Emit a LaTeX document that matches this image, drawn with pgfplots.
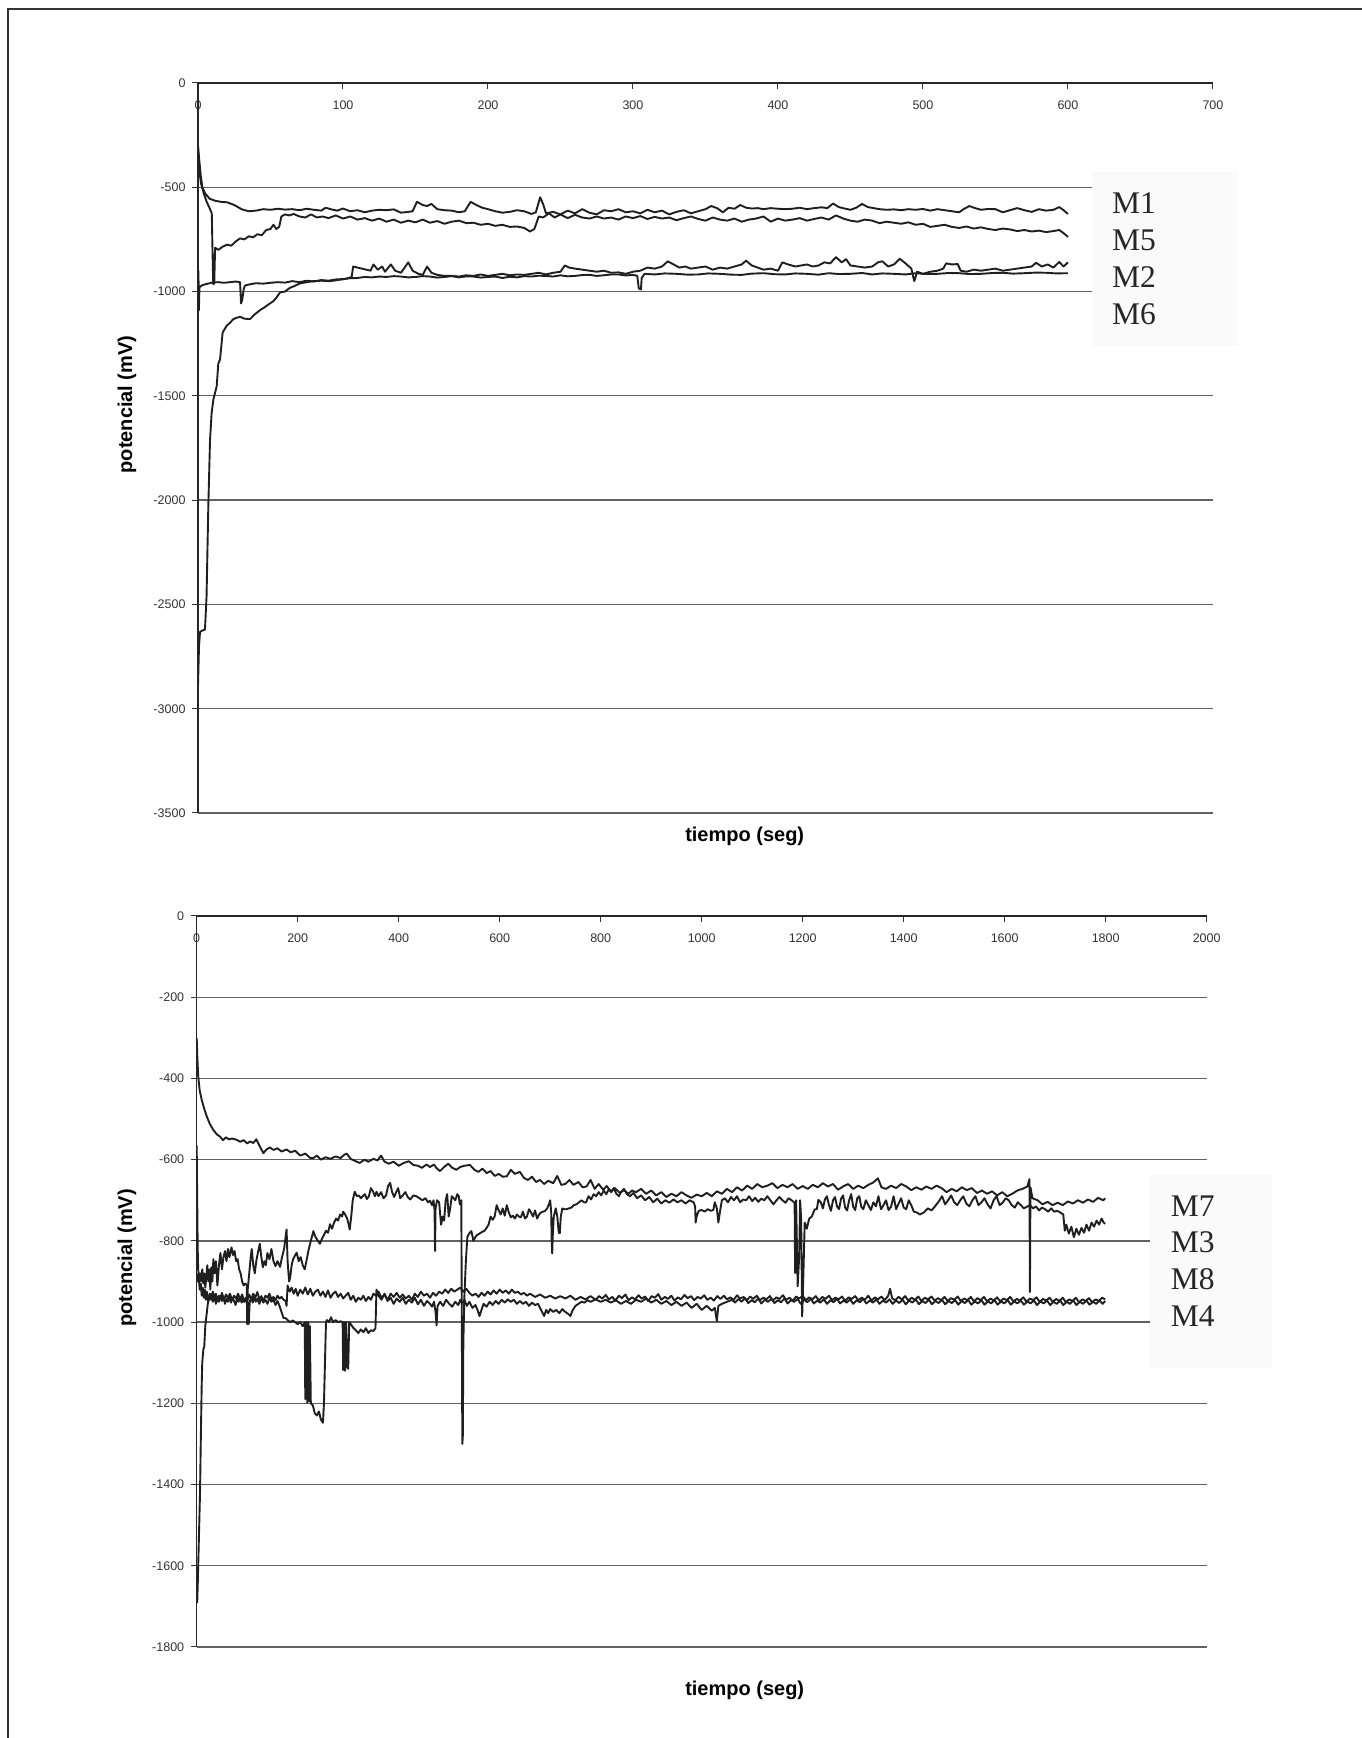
\documentclass[border=0pt]{standalone}
\usepackage{fontspec}
\setmainfont{Liberation Sans}
\newfontfamily\serifmk{Liberation Serif}
\usepackage{pgfplots}
\pgfplotsset{compat=1.18}
\begin{document}
\begin{tikzpicture}
\path[use as bounding box] (0pt,0pt) rectangle (1362pt,1738pt);
\pgfplotsset{
  excel/.style={
    scale only axis,
    axis x line*=middle, axis y line*=left,
    axis line style={-, black!85, line width=1.4pt},
    hide obscured x ticks=false, hide obscured y ticks=false,
    ymajorgrids, major grid style={black!62, line width=1.3pt},
    tick style={black!80, line width=1pt}, major tick length=6pt,
    tick align=outside,
    /pgf/number format/assume math mode=true,
    /pgf/number format/1000 sep={},
    tick label style={font=\fontsize{12.5}{14}\selectfont, text=black!80},
    xticklabel style={yshift=-8pt},
    yticklabel style={xshift=-3pt},
    clip=true,
  },
  curve/.style={line width=1.9pt, black!88, line join=round},
}
% ---------------- TOP CHART ----------------
\begin{axis}[excel, at={(198pt,925pt)}, anchor=south west, width=1015pt, height=730pt,
  xmin=0, xmax=700, ymin=-3500, ymax=0,
  xtick={0,100,...,700}, ytick={-3500,-3000,...,0}]
% M1
\addplot[curve] coordinates {(0,-300) (1,-380) (2,-450) (3,-500) (5,-530) (8,-555) (12,-565) (16,-570) (20,-572) (25,-585) (30,-605) (35,-615) (40,-612) (45,-605) (50,-608) (55,-603) (60,-607) (65,-605) (70,-610) (75,-603) (80,-608) (85,-612) (88,-598) (92,-606) (96,-612) (100,-602) (105,-615) (110,-610) (115,-620) (120,-612) (125,-608) (130,-610) (135,-606) (140,-622) (145,-618) (148,-615) (151,-570) (155,-585) (158,-590) (161,-580) (165,-605) (170,-610) (175,-612) (180,-620) (184,-615) (188,-570) (192,-585) (196,-598) (200,-605) (205,-615) (210,-622) (215,-618) (220,-610) (225,-615) (230,-628) (233,-620) (236,-548) (238,-580) (240,-625) (245,-618) (250,-630) (255,-612) (260,-625) (265,-605) (270,-622) (275,-630) (280,-610) (285,-615) (290,-605) (295,-620) (300,-615) (305,-625) (310,-608) (315,-620) (320,-612) (325,-630) (330,-618) (335,-610) (340,-625) (345,-615) (350,-605) (354,-590) (358,-600) (362,-620) (366,-598) (370,-603) (374,-585) (378,-598) (382,-602) (386,-600) (390,-605) (395,-600) (400,-603) (405,-605) (410,-603) (415,-598) (420,-605) (425,-600) (430,-596) (434,-600) (438,-578) (442,-595) (446,-602) (450,-608) (454,-598) (458,-580) (462,-595) (466,-600) (470,-605) (475,-608) (480,-606) (485,-610) (490,-605) (495,-608) (500,-604) (505,-612) (510,-605) (515,-610) (520,-615) (525,-620) (528,-605) (532,-590) (536,-600) (540,-608) (545,-604) (550,-605) (555,-620) (560,-610) (565,-600) (570,-610) (575,-618) (580,-605) (585,-612) (590,-608) (594,-595) (597,-610) (600,-628)};
% M5
\addplot[curve] coordinates {(0,-320) (1,-420) (2,-480) (4,-530) (6,-570) (8,-600) (9.5,-625) (10,-800) (10.5,-965) (11.2,-960) (11.8,-790) (14,-800) (17,-785) (20,-775) (23,-780) (26,-760) (29,-745) (32,-750) (35,-735) (38,-740) (41,-725) (44,-730) (47,-705) (50,-700) (52,-680) (54,-700) (56,-690) (57.5,-640) (60,-630) (63,-635) (66,-628) (70,-640) (74,-645) (78,-630) (82,-645) (86,-640) (90,-648) (95,-635) (100,-650) (105,-640) (110,-655) (115,-648) (120,-660) (125,-650) (130,-665) (135,-655) (140,-670) (145,-660) (150,-668) (155,-655) (160,-670) (165,-662) (170,-675) (175,-665) (180,-660) (185,-672) (190,-670) (195,-680) (200,-675) (205,-685) (210,-680) (215,-690) (220,-688) (225,-695) (229,-712) (232,-700) (235,-640) (238,-645) (242,-625) (246,-645) (250,-630) (255,-648) (260,-632) (265,-645) (270,-650) (275,-640) (280,-650) (285,-645) (290,-655) (295,-640) (300,-648) (305,-638) (310,-652) (315,-642) (320,-650) (325,-645) (330,-658) (335,-648) (340,-640) (345,-652) (350,-660) (355,-645) (360,-655) (365,-660) (370,-650) (375,-665) (380,-655) (385,-650) (390,-640) (395,-665) (400,-650) (405,-660) (410,-655) (415,-648) (420,-660) (425,-652) (430,-645) (435,-655) (440,-635) (445,-650) (450,-660) (455,-665) (460,-655) (465,-660) (470,-672) (475,-665) (480,-670) (485,-675) (490,-668) (495,-680) (500,-675) (505,-690) (510,-685) (515,-680) (520,-690) (525,-695) (530,-688) (535,-698) (540,-692) (545,-700) (550,-705) (555,-698) (560,-702) (565,-710) (570,-705) (575,-712) (580,-708) (585,-715) (590,-710) (594,-705) (597,-720) (600,-738)};
% M2
\addplot[curve] coordinates {(0,-1000) (0.3,-900) (0.6,-1090) (1,-980) (2.5,-971) (5,-965) (8,-960) (10.6,-956) (14,-955) (18,-958) (22,-955) (26,-952) (29,-955) (29.7,-1057) (30.5,-1040) (31.5,-990) (32.4,-971) (36,-965) (40,-960) (45,-962) (50,-958) (55,-955) (60,-957) (65,-950) (70,-955) (75,-948) (80,-952) (85,-945) (90,-948) (95,-942) (100,-940) (105,-936) (110,-935) (115,-930) (120,-932) (125,-928) (130,-930) (135,-926) (140,-928) (145,-932) (150,-930) (155,-926) (160,-928) (165,-933) (170,-930) (175,-926) (180,-932) (185,-927) (190,-928) (195,-933) (200,-930) (205,-928) (210,-935) (215,-929) (220,-932) (225,-926) (230,-928) (235,-924) (240,-925) (245,-928) (250,-922) (255,-927) (260,-925) (265,-921) (270,-920) (275,-925) (280,-922) (285,-918) (290,-918) (295,-923) (300,-920) (303,-925) (304,-985) (305.5,-990) (306,-935) (308,-915) (315,-918) (322,-913) (330,-915) (338,-919) (345,-918) (352,-913) (360,-915) (368,-919) (375,-920) (382,-914) (390,-912) (398,-917) (405,-918) (412,-913) (420,-915) (428,-919) (435,-912) (442,-916) (450,-915) (458,-911) (465,-918) (472,-913) (480,-915) (488,-918) (495,-912) (502,-916) (510,-915) (518,-911) (525,-912) (532,-916) (540,-915) (548,-911) (555,-910) (562,-914) (570,-912) (578,-909) (585,-910) (592,-913) (600,-912)};
% M6
\addplot[curve] coordinates {(0,-2890) (0.7,-2700) (1.4,-2632) (3,-2625) (4.8,-2621) (5.9,-2461) (7.1,-2032) (8.3,-1711) (9.4,-1582) (10.6,-1518) (12.9,-1454) (14,-1346) (15.2,-1325) (17,-1196) (19.8,-1164) (22,-1150) (24.4,-1132) (27,-1125) (29,-1121) (32,-1130) (35.9,-1132) (39,-1110) (42.8,-1089) (46,-1075) (49,-1060) (52,-1046) (54,-1030) (56.6,-1004) (60,-1000) (63.4,-982) (66,-975) (70.3,-961) (75,-955) (79.5,-950) (85,-948) (91,-950) (96,-945) (102,-939) (106,-930) (107,-880) (110,-885) (113,-890) (116,-895) (119,-900) (121,-870) (124,-895) (127,-880) (129,-905) (133,-870) (136,-900) (140,-910) (143,-880) (145,-860) (148,-900) (152,-915) (155,-920) (158,-880) (161,-910) (165,-920) (170,-925) (175,-925) (180,-928) (185,-922) (190,-925) (195,-918) (200,-925) (205,-920) (210,-915) (215,-922) (220,-918) (225,-920) (230,-915) (235,-910) (240,-918) (245,-910) (250,-905) (253,-875) (256,-885) (260,-890) (265,-895) (270,-900) (275,-905) (280,-900) (285,-910) (290,-908) (295,-915) (300,-905) (305,-900) (310,-885) (315,-890) (320,-880) (324,-855) (328,-870) (332,-885) (336,-880) (340,-890) (345,-885) (350,-880) (355,-895) (360,-885) (365,-890) (370,-880) (375,-870) (378,-852) (382,-875) (386,-885) (390,-895) (395,-890) (400,-900) (403,-860) (407,-870) (412,-880) (416,-875) (420,-870) (424,-880) (428,-875) (432,-860) (436,-865) (440,-835) (444,-860) (447,-845) (450,-875) (455,-880) (460,-885) (465,-880) (469,-860) (472,-855) (476,-880) (480,-870) (484,-843) (488,-865) (492,-890) (494,-950) (496,-905) (500,-915) (505,-905) (510,-900) (514,-890) (516,-865) (520,-870) (524,-868) (526,-900) (530,-905) (535,-895) (540,-900) (545,-895) (550,-890) (555,-900) (560,-895) (565,-890) (570,-885) (575,-880) (578,-862) (582,-880) (586,-870) (590,-885) (594,-858) (597,-880) (600,-860)};
\end{axis}
% ---------------- BOTTOM CHART ----------------
\begin{axis}[excel, at={(196.7pt,91pt)}, anchor=south west, width=1010pt, height=731pt,
  xmin=0, xmax=2000, ymin=-1800, ymax=0,
  xtick={0,200,...,2000}, ytick={-1800,-1600,...,0}]
% M7
\addplot[curve] coordinates {(0,-300) (1,-340) (3,-395) (6,-430) (10,-453) (15,-475) (20,-494) (26,-512) (33,-527) (40,-538) (46,-543) (52,-552) (58,-545) (64,-550) (70,-548) (79,-551) (86,-556) (93,-552) (100,-560) (106,-555) (112,-559) (118,-550) (124,-565) (132,-584) (138,-575) (145,-570) (152,-576) (160,-572) (168,-580) (178,-575) (186,-582) (195,-578) (205,-590) (215,-585) (225,-596) (231,-596) (238,-590) (246,-600) (255,-594) (265,-598) (275,-592) (285,-596) (292,-588) (297,-585) (305,-598) (315,-604) (323,-608) (332,-600) (340,-605) (350,-598) (358,-602) (365,-590) (372,-605) (380,-610) (390,-605) (400,-615) (410,-608) (420,-604) (429,-613) (438,-615) (446,-620) (455,-612) (462,-618) (470,-612) (475,-621) (482,-628) (490,-618) (498,-610) (506,-620) (514,-625) (522,-618) (530,-615) (541,-613) (550,-625) (558,-630) (566,-622) (574,-633) (582,-628) (590,-640) (598,-635) (606,-642) (614,-641) (622,-625) (630,-635) (640,-630) (648,-645) (656,-650) (664,-642) (672,-655) (680,-650) (688,-660) (696,-652) (706,-658) (714,-640) (722,-662) (730,-660) (738,-650) (746,-662) (756,-655) (764,-668) (772,-666) (780,-650) (788,-672) (796,-660) (805,-674) (812,-665) (820,-678) (828,-670) (838,-682) (846,-675) (855,-684) (862,-676) (870,-680) (880,-672) (890,-684) (900,-676) (910,-688) (920,-680) (930,-692) (940,-684) (950,-690) (960,-680) (970,-688) (980,-694) (990,-686) (1000,-690) (1010,-682) (1020,-690) (1030,-678) (1040,-684) (1050,-672) (1060,-680) (1070,-668) (1080,-676) (1090,-664) (1100,-672) (1110,-660) (1120,-668) (1130,-664) (1140,-658) (1150,-670) (1160,-662) (1170,-668) (1180,-660) (1190,-672) (1200,-665) (1210,-672) (1220,-662) (1230,-668) (1240,-658) (1250,-666) (1260,-660) (1270,-674) (1280,-666) (1290,-660) (1300,-672) (1310,-664) (1320,-670) (1330,-662) (1340,-656) (1349,-646) (1356,-668) (1365,-672) (1375,-664) (1385,-670) (1395,-660) (1405,-666) (1415,-675) (1425,-668) (1435,-674) (1445,-666) (1455,-672) (1465,-664) (1475,-670) (1485,-680) (1495,-672) (1505,-678) (1515,-668) (1525,-675) (1535,-670) (1545,-682) (1555,-676) (1565,-684) (1575,-678) (1585,-688) (1595,-680) (1605,-690) (1615,-684) (1625,-676) (1635,-672) (1645,-666) (1649,-648) (1650,-926) (1651,-668) (1655,-695) (1665,-700) (1675,-710) (1685,-704) (1695,-712) (1705,-706) (1715,-712) (1725,-703) (1735,-708) (1745,-700) (1755,-706) (1765,-698) (1775,-704) (1785,-694) (1795,-700) (1799,-695)};
% M3
\addplot[curve] coordinates {(0,-565) (1,-700) (2,-820) (3,-873) (5,-890) (7,-880) (9,-900) (11,-870) (13,-905) (15,-880) (17,-915) (19,-890) (21,-860) (23,-900) (25,-870) (27,-920) (29,-865) (31,-900) (33,-845) (35,-880) (38,-850) (41,-910) (44,-860) (47,-830) (50,-870) (53,-840) (56,-825) (59,-850) (62,-820) (65,-840) (69,-816) (72,-835) (75,-825) (78,-850) (81,-845) (84,-870) (87,-880) (90,-900) (93,-910) (96,-905) (99,-908) (100,-1005) (101,-920) (104,-880) (107,-840) (109,-820) (112,-860) (115,-880) (118,-850) (121,-830) (125,-807) (128,-840) (131,-865) (134,-850) (137,-860) (140,-830) (144,-845) (148,-820) (152,-850) (156,-862) (160,-850) (165,-864) (169,-840) (173,-820) (176,-790) (178,-772) (180,-850) (183,-900) (185,-891) (188,-860) (191,-845) (195,-835) (198,-829) (202,-850) (206,-840) (210,-860) (214,-870) (218,-845) (222,-820) (226,-800) (231,-776) (235,-790) (240,-800) (244,-807) (248,-795) (252,-785) (256,-775) (260,-780) (264,-759) (268,-770) (272,-755) (276,-745) (280,-750) (284,-735) (288,-740) (290,-728) (294,-735) (298,-745) (301,-760) (303,-772) (306,-740) (309,-700) (313,-679) (317,-690) (321,-688) (325,-695) (329,-690) (333,-685) (337,-697) (341,-690) (345,-670) (349,-678) (353,-690) (356,-679) (360,-690) (365,-680) (370,-695) (375,-688) (379,-665) (383,-657) (387,-680) (391,-692) (395,-680) (399,-670) (403,-695) (408,-688) (413,-680) (418,-692) (423,-698) (429,-688) (435,-690) (441,-695) (447,-700) (453,-695) (458,-705) (462,-701) (466,-712) (469,-700) (471,-725) (472,-825) (473,-720) (476,-700) (480,-705) (484,-760) (487,-740) (490,-750) (493,-700) (496,-685) (499,-740) (502,-720) (505,-690) (508,-694) (512,-700) (516,-685) (519,-690) (521,-710) (524,-700) (525,-1000) (526,-1300) (527,-1280) (528,-1050) (530,-940) (533,-850) (536,-790) (540,-781) (544,-776) (548,-800) (552,-790) (556,-785) (560,-782) (565,-778) (570,-775) (574,-768) (578,-760) (582,-740) (586,-748) (590,-740) (594,-712) (598,-725) (602,-735) (606,-720) (610,-738) (614,-712) (618,-730) (622,-742) (626,-738) (630,-745) (634,-735) (638,-740) (642,-742) (646,-728) (650,-745) (654,-740) (658,-722) (662,-730) (666,-740) (670,-725) (674,-745) (678,-735) (682,-730) (686,-728) (690,-726) (694,-720) (698,-708) (700,-700) (702,-730) (703,-800) (704,-831) (705,-790) (707,-740) (711,-720) (714,-740) (717,-780) (719,-781) (721,-740) (724,-720) (728,-722) (732,-722) (737,-720) (742,-718) (747,-712) (752,-710) (757,-705) (762,-700) (767,-705) (771,-705) (776,-690) (781,-698) (786,-685) (791,-690) (796,-680) (801,-688) (806,-676) (811,-685) (816,-673) (821,-680) (826,-670) (831,-684) (836,-690) (840,-680) (846,-672) (852,-685) (858,-690) (865,-682) (872,-695) (880,-688) (888,-700) (896,-692) (904,-705) (912,-696) (920,-708) (928,-700) (936,-706) (944,-698) (952,-705) (960,-700) (968,-708) (976,-700) (984,-705) (987,-715) (988,-755) (990,-740) (994,-726) (1000,-724) (1006,-728) (1012,-722) (1018,-726) (1023,-724) (1026,-705) (1030,-720) (1033,-755) (1036,-730) (1040,-700) (1046,-695) (1052,-705) (1058,-692) (1064,-700) (1070,-690) (1076,-705) (1082,-698) (1088,-700) (1094,-690) (1100,-702) (1106,-694) (1112,-704) (1118,-696) (1124,-700) (1130,-690) (1136,-700) (1142,-710) (1148,-700) (1154,-692) (1160,-700) (1166,-706) (1172,-695) (1178,-700) (1184,-706) (1185,-879) (1187,-700) (1190,-912) (1193,-840) (1195,-700) (1197,-750) (1199,-986) (1201,-900) (1204,-755) (1208,-770) (1213,-745) (1218,-740) (1224,-722) (1228,-722) (1231,-699) (1236,-705) (1240,-720) (1244,-698) (1248,-690) (1252,-712) (1256,-726) (1260,-700) (1264,-692) (1268,-715) (1272,-722) (1276,-696) (1280,-688) (1284,-718) (1288,-725) (1292,-700) (1296,-685) (1300,-716) (1304,-724) (1308,-695) (1312,-690) (1316,-716) (1320,-722) (1325,-700) (1330,-712) (1335,-724) (1340,-705) (1345,-715) (1350,-690) (1355,-722) (1360,-712) (1365,-700) (1370,-724) (1375,-716) (1380,-690) (1385,-722) (1390,-708) (1395,-695) (1400,-718) (1405,-722) (1410,-700) (1416,-715) (1420,-728) (1426,-730) (1432,-735) (1440,-730) (1448,-720) (1455,-725) (1462,-715) (1470,-702) (1476,-690) (1482,-710) (1488,-700) (1494,-688) (1500,-705) (1506,-712) (1512,-700) (1518,-690) (1524,-708) (1530,-715) (1536,-700) (1542,-690) (1548,-712) (1554,-705) (1560,-695) (1566,-710) (1572,-720) (1578,-700) (1584,-690) (1590,-712) (1596,-706) (1602,-695) (1608,-700) (1614,-712) (1620,-718) (1626,-705) (1632,-712) (1638,-720) (1644,-716) (1650,-712) (1656,-720) (1662,-715) (1668,-725) (1674,-718) (1680,-722) (1686,-728) (1692,-720) (1698,-728) (1704,-726) (1710,-730) (1716,-735) (1719,-775) (1722,-760) (1727,-782) (1732,-765) (1737,-791) (1742,-770) (1747,-785) (1752,-768) (1757,-780) (1762,-760) (1767,-775) (1772,-755) (1777,-765) (1782,-750) (1787,-760) (1792,-745) (1796,-755) (1799,-758)};
% M8
\addplot[curve] coordinates {(0,-880) (2,-900) (4,-890) (6,-920) (8,-905) (10,-935) (12,-915) (14,-940) (16,-920) (18,-945) (20,-925) (23,-950) (26,-930) (29,-945) (32,-925) (35,-940) (38,-930) (41,-948) (44,-935) (47,-942) (50,-928) (54,-945) (58,-932) (62,-940) (66,-930) (70,-946) (74,-935) (78,-942) (82,-930) (86,-945) (90,-932) (94,-950) (97,-940) (100,-946) (104,-932) (108,-945) (112,-930) (116,-940) (120,-926) (124,-944) (128,-936) (132,-948) (136,-935) (140,-940) (144,-930) (148,-944) (152,-938) (156,-946) (160,-935) (164,-942) (168,-938) (172,-945) (176,-948) (178,-960) (180,-910) (184,-925) (188,-915) (192,-930) (196,-918) (200,-935) (205,-920) (210,-930) (215,-915) (220,-932) (225,-918) (230,-935) (235,-925) (240,-920) (245,-935) (250,-925) (255,-938) (260,-922) (265,-940) (270,-930) (275,-925) (280,-938) (285,-930) (290,-942) (295,-935) (300,-928) (305,-945) (310,-935) (315,-950) (320,-940) (325,-945) (330,-935) (335,-948) (340,-938) (345,-945) (350,-930) (355,-935) (360,-925) (366,-940) (372,-932) (378,-945) (384,-930) (390,-938) (396,-928) (402,-940) (408,-932) (414,-942) (420,-935) (426,-945) (432,-930) (438,-938) (444,-925) (450,-935) (456,-930) (462,-940) (468,-928) (474,-935) (480,-925) (486,-930) (492,-920) (498,-928) (504,-918) (510,-925) (516,-920) (522,-915) (528,-925) (534,-918) (540,-928) (546,-935) (552,-930) (558,-938) (564,-928) (570,-935) (576,-925) (582,-932) (588,-922) (594,-930) (600,-920) (606,-928) (612,-922) (618,-930) (624,-920) (630,-928) (636,-925) (642,-932) (648,-928) (654,-935) (660,-930) (670,-938) (680,-932) (690,-940) (700,-935) (710,-942) (720,-936) (730,-942) (740,-935) (750,-945) (760,-938) (770,-944) (780,-936) (790,-945) (797,-936) (803,-942) (810,-933) (816,-944) (823,-938) (829,-947) (836,-935) (842,-941) (849,-932) (855,-946) (862,-939) (868,-944) (875,-934) (881,-942) (888,-937) (894,-948) (901,-936) (907,-940) (914,-931) (920,-945) (927,-938) (933,-943) (940,-935) (946,-947) (953,-939) (959,-944) (966,-933) (972,-941) (979,-936) (985,-946) (992,-938) (998,-942) (1005,-934) (1011,-945) (1018,-940) (1024,-947) (1031,-936) (1037,-943) (1044,-935) (1050,-944) (1057,-939) (1063,-946) (1070,-934) (1076,-942) (1083,-938) (1089,-947) (1096,-937) (1102,-943) (1109,-935) (1115,-946) (1122,-940) (1128,-944) (1135,-936) (1141,-947) (1148,-939) (1154,-943) (1161,-934) (1167,-945) (1174,-940) (1180,-948) (1187,-937) (1193,-942) (1200,-935) (1206,-946) (1213,-939) (1219,-944) (1226,-936) (1232,-947) (1239,-938) (1245,-943) (1252,-935) (1258,-946) (1265,-940) (1271,-944) (1278,-937) (1284,-948) (1291,-939) (1297,-943) (1304,-936) (1310,-946) (1317,-940) (1323,-945) (1330,-935) (1336,-947) (1343,-939) (1349,-944) (1356,-937) (1362,-946) (1369,-936) (1373,-918) (1377,-941) (1383,-946) (1390,-938) (1396,-944) (1403,-936) (1409,-947) (1416,-940) (1422,-945) (1429,-937) (1435,-948) (1442,-940) (1448,-944) (1455,-937) (1461,-947) (1468,-941) (1474,-946) (1481,-938) (1487,-948) (1494,-941) (1500,-945) (1507,-937) (1513,-948) (1520,-942) (1526,-946) (1533,-938) (1539,-949) (1546,-941) (1552,-946) (1559,-938) (1565,-949) (1572,-942) (1578,-947) (1585,-939) (1591,-949) (1598,-942) (1604,-946) (1611,-938) (1617,-949) (1624,-943) (1630,-947) (1637,-939) (1643,-950) (1650,-942) (1656,-946) (1663,-939) (1669,-950) (1676,-943) (1682,-947) (1689,-940) (1695,-950) (1702,-943) (1708,-948) (1715,-940) (1721,-951) (1728,-944) (1734,-948) (1741,-940) (1747,-951) (1754,-944) (1760,-948) (1767,-941) (1773,-951) (1780,-944) (1786,-948) (1793,-940) (1799,-944)};
% M4
\addplot[curve] coordinates {(0,-1685) (1,-1690) (2,-1650) (4,-1550) (6.6,-1419) (8,-1300) (9.9,-1155) (11,-1100) (13.2,-1067) (15,-1060) (17,-1010) (19.8,-979) (22,-955) (24,-940) (26.4,-944) (29,-930) (32,-950) (35,-935) (38,-955) (41,-940) (44,-950) (47,-935) (50,-948) (53,-938) (56,-955) (59,-942) (62,-950) (65,-936) (68,-952) (71,-940) (74,-948) (77,-958) (80,-940) (83,-950) (86,-938) (89,-952) (92,-942) (95,-950) (98,-940) (101,-955) (103,-1005) (105,-950) (108,-940) (111,-952) (114,-938) (117,-950) (120,-942) (124,-955) (128,-940) (132,-952) (136,-945) (140,-955) (144,-940) (148,-950) (152,-945) (156,-958) (160,-948) (164,-960) (168,-975) (172,-990) (176,-990) (180,-995) (185,-1000) (190,-996) (195,-1000) (200,-1005) (205,-1000) (210,-1010) (214,-1000) (215,-1190) (217,-1000) (219,-1199) (221,-1000) (223,-1195) (224,-1010) (226,-1200) (230,-1205) (234,-1225) (238,-1230) (242,-1220) (246,-1240) (250,-1248) (252,-1200) (254,-1100) (256,-1000) (258,-995) (262,-1000) (266,-988) (270,-1000) (275,-995) (280,-1000) (285,-998) (289,-1000) (290,-1118) (292,-1000) (294,-1120) (296,-1000) (298,-1110) (300,-1115) (302,-1000) (305,-1005) (310,-1014) (315,-1020) (320,-1027) (325,-1018) (330,-1025) (335,-1015) (340,-1027) (345,-1020) (350,-1022) (354,-1015) (356,-920) (360,-935) (366,-945) (372,-930) (378,-948) (384,-940) (390,-955) (396,-942) (402,-950) (408,-940) (414,-955) (420,-945) (426,-952) (432,-940) (438,-956) (444,-945) (450,-960) (456,-948) (462,-955) (466,-962) (470,-950) (473,-975) (475,-1008) (477,-960) (482,-950) (488,-960) (494,-945) (500,-955) (506,-962) (512,-950) (518,-958) (522,-945) (526,-955) (530,-945) (535,-960) (540,-950) (546,-965) (552,-958) (556,-970) (560,-985) (564,-970) (568,-955) (574,-962) (580,-950) (586,-958) (592,-948) (598,-955) (604,-945) (610,-952) (616,-944) (622,-950) (628,-945) (634,-955) (640,-948) (646,-955) (652,-950) (658,-960) (664,-952) (670,-958) (676,-955) (680,-965) (684,-975) (688,-985) (692,-970) (696,-978) (700,-968) (706,-975) (712,-970) (718,-978) (724,-968) (730,-975) (736,-980) (740,-985) (744,-972) (750,-960) (756,-955) (762,-950) (768,-952) (774,-946) (780,-950) (790,-944) (800,-950) (810,-945) (820,-952) (830,-946) (840,-955) (850,-948) (860,-955) (870,-945) (880,-950) (890,-942) (900,-952) (910,-945) (920,-955) (930,-948) (940,-958) (950,-950) (960,-960) (970,-952) (980,-965) (990,-955) (1000,-970) (1010,-960) (1020,-972) (1026,-965) (1030,-998) (1033,-960) (1040,-955) (1050,-950) (1060,-945) (1066,-952) (1073,-943) (1079,-950) (1086,-941) (1092,-953) (1099,-946) (1105,-951) (1112,-942) (1118,-954) (1125,-945) (1131,-950) (1138,-943) (1144,-953) (1151,-946) (1157,-951) (1164,-942) (1170,-954) (1177,-946) (1183,-950) (1190,-943) (1196,-955) (1203,-945) (1209,-951) (1216,-943) (1222,-954) (1229,-947) (1235,-952) (1242,-944) (1248,-955) (1255,-946) (1261,-951) (1268,-943) (1274,-954) (1281,-947) (1287,-952) (1294,-944) (1300,-955) (1307,-946) (1313,-951) (1320,-943) (1326,-954) (1333,-947) (1339,-952) (1346,-944) (1352,-955) (1359,-947) (1365,-952) (1372,-944) (1378,-955) (1385,-947) (1391,-953) (1398,-945) (1404,-956) (1411,-947) (1417,-952) (1424,-944) (1430,-956) (1437,-948) (1443,-953) (1450,-945) (1456,-956) (1463,-948) (1469,-953) (1476,-945) (1482,-956) (1489,-948) (1495,-953) (1502,-946) (1508,-957) (1515,-948) (1521,-953) (1528,-946) (1534,-957) (1541,-949) (1547,-954) (1554,-946) (1560,-957) (1567,-949) (1573,-954) (1580,-946) (1586,-957) (1593,-949) (1599,-954) (1606,-946) (1612,-957) (1619,-949) (1625,-954) (1632,-947) (1638,-957) (1645,-949) (1651,-954) (1658,-947) (1664,-958) (1671,-949) (1677,-954) (1684,-947) (1690,-958) (1697,-950) (1703,-955) (1710,-947) (1716,-958) (1723,-950) (1729,-955) (1736,-947) (1742,-958) (1749,-950) (1755,-955) (1762,-947) (1768,-957) (1775,-950) (1781,-955) (1788,-947) (1794,-955) (1799,-948)};
\end{axis}
% legend boxes
\fill[black!2] (1092pt,1392pt) rectangle (1238pt,1566pt);
\fill[black!2] (1150pt,370pt) rectangle (1272pt,563pt);
\begin{scope}[every node/.style={anchor=west, inner sep=0pt, text=black!85, font=\serifmk\fontsize{31.5}{32}\selectfont}]
\node at (1112pt,1534.5pt) {M1};
\node at (1112pt,1497.7pt) {M5};
\node at (1112pt,1461pt) {M2};
\node at (1112pt,1424pt) {M6};
\node at (1170.7pt,532pt) {M7};
\node at (1170.7pt,495.5pt) {M3};
\node at (1170.7pt,459pt) {M8};
\node at (1170.7pt,422pt) {M4};
\end{scope}
% axis titles
\begin{scope}[every node/.style={font=\bfseries\fontsize{20}{24}\selectfont, inner sep=0pt}]
\node[rotate=90] at (127pt,1333.5pt) {potencial (mV)};
\node at (744.7pt,901.4pt) {tiempo (seg)};
\node[rotate=90] at (127pt,480pt) {potencial (mV)};
\node at (744.7pt,48pt) {tiempo (seg)};
\end{scope}
% frame
\draw[black!80, line width=2pt] (8pt,0pt) -- (8pt,1729pt) -- (1362pt,1729pt);
\end{tikzpicture}
\end{document}
